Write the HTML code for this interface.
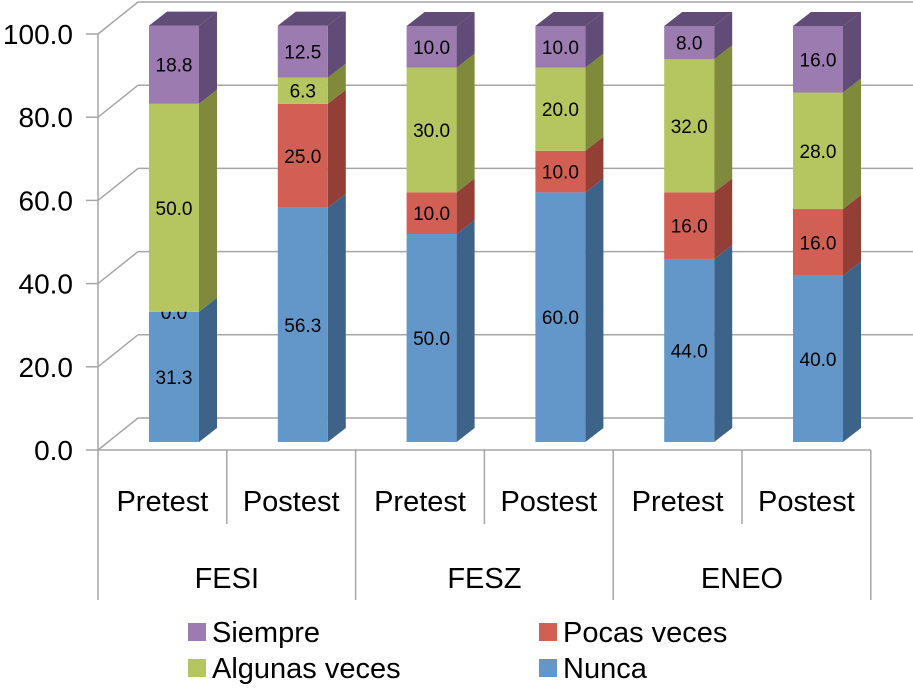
<!DOCTYPE html>
<html><head><meta charset="utf-8"><style>
body{margin:0;background:#fff}
svg text{font-family:"Liberation Sans",Arial,sans-serif;fill:#000}
</style></head><body>
<svg id="chart" width="913" height="686" viewBox="0 0 913 686">
<g id="grid"></g><g id="bars"></g><g id="axes"></g><g id="legend"></g>
</svg>
<script>
const categories=["Pretest","Postest","Pretest","Postest","Pretest","Postest"];
const groups=["FESI","FESZ","ENEO"];
const nunca=[31.3,56.3,50.0,60.0,44.0,40.0];
const pocas=[0.0,25.0,10.0,10.0,16.0,16.0];
const algunas=[50.0,6.3,30.0,20.0,32.0,28.0];
const siempre=[18.8,12.5,10.0,10.0,8.0,16.0];
const yTicks=[0,20,40,60,80,100];
const yTickLabels=["0.0","20.0","40.0","60.0","80.0","100.0"];

const NS="http://www.w3.org/2000/svg";
function mk(tag,attrs,parent){const e=document.createElementNS(NS,tag);for(const k in attrs)e.setAttribute(k,attrs[k]);parent.appendChild(e);return e;}
const X0=98,CW=128.8,FY0=450,SC=4.16,DX=40,DY=-32;
const fy=v=>FY0-v*SC;
const by=v=>fy(v)+DY;
const barY=v=>442-v*SC;
const grid=document.getElementById('grid'),bars=document.getElementById('bars'),axes=document.getElementById('axes'),legend=document.getElementById('legend');
const gc="#a6a6a6";
yTicks.forEach((t,i)=>{
  let l=mk('line',{x1:X0+DX,y1:by(t),x2:913,y2:by(t),stroke:gc,'stroke-width':1.5},grid);
  
  let d=mk('line',{x1:X0,y1:fy(t),x2:X0+DX,y2:by(t),stroke:gc,'stroke-width':1.5},grid);
  
  let tk=mk('line',{x1:X0-12,y1:fy(t),x2:X0,y2:fy(t),stroke:gc,'stroke-width':1.5},axes);
  
  let tx=mk('text',{x:73,y:fy(t)+10,'text-anchor':'end','font-size':28},axes);
  tx.textContent=yTickLabels[i];
  
});
const ya=mk('line',{x1:X0,y1:fy(100),x2:X0,y2:600,stroke:gc,'stroke-width':1.5},axes);

const xa=mk('line',{x1:X0,y1:FY0,x2:X0+6*CW,y2:FY0,stroke:gc,'stroke-width':1.5},axes);

const series=[
 {name:"Nunca",vals:nunca,front:"#6397c9",side:"#3e6389"},
 {name:"Pocas veces",vals:pocas,front:"#d15f53",side:"#933f36"},
 {name:"Algunas veces",vals:algunas,front:"#b5c55f",side:"#7f8b3a"},
 {name:"Siempre",vals:siempre,front:"#9b7bb0",side:"#614b77"}];
const BW=50,BD=18,BH=-14;
categories.forEach((c,i)=>{
  const bx=149+i*CW;
  let base=0;
  series.forEach((s,si)=>{
    const v=s.vals[i];const y1=barY(base),y2=barY(base+v);
    if(v>0){
      let side=mk('polygon',{points:`${bx+BW},${y1} ${bx+BW+BD},${y1+BH} ${bx+BW+BD},${y2+BH} ${bx+BW},${y2}`,fill:s.side},bars);
      
      let r=mk('rect',{x:bx,y:y2,width:BW,height:y1-y2,fill:s.front},bars);
      
    }
    if(si===series.length-1){
      let top=mk('polygon',{points:`${bx},${y2} ${bx+BD},${y2+BH} ${bx+BW+BD},${y2+BH} ${bx+BW},${y2}`,fill:s.side},bars);
      
    }
    let t=mk('text',{x:bx+BW/2,y:(y1+y2)/2+7,'text-anchor':'middle','font-size':19},bars);
    t.textContent=v.toFixed(1);
    
    base+=v;
  });
  let cl=mk('text',{x:X0+CW*(i+0.5),y:511,'text-anchor':'middle','font-size':29},axes);
  cl.textContent=c;
  let dv=mk('line',{x1:X0+CW*(i+1),y1:FY0,x2:X0+CW*(i+1),y2:(i%2===1)?600:524,stroke:gc,'stroke-width':1.5},axes);
  
});
groups.forEach((g,i)=>{
  let t=mk('text',{x:X0+CW*(2*i+1),y:588,'text-anchor':'middle','font-size':29},axes);
  t.textContent=g;
});
const leg=[["Siempre","#9b7bb0",188,632],["Pocas veces","#d15f53",539,632],["Algunas veces","#b5c55f",188,668],["Nunca","#6397c9",539,668]];
leg.forEach(l=>{
  let r=mk('rect',{x:l[2],y:l[3]-9,width:18,height:18,fill:l[1]},legend);
  
  let t=mk('text',{x:l[2]+24,y:l[3]+10,'font-size':29},legend);
  t.textContent=l[0];
});
</script>
</body></html>
